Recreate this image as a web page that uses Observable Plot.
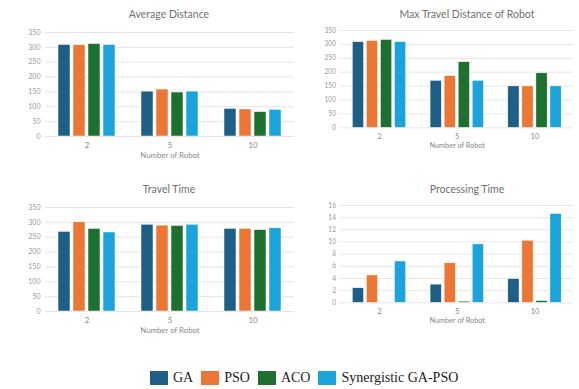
<!DOCTYPE html>
<html>
<head>
<meta charset="utf-8">
<script src="https://cdn.jsdelivr.net/npm/d3@7"></script>
<script src="https://cdn.jsdelivr.net/npm/@observablehq/plot@0.6"></script>
<style>
  html, body { margin: 0; padding: 0; background: #fff; }
  body { width: 579px; height: 389px; overflow: hidden; position: relative; font-family: Lato, "Open Sans", sans-serif; }
  .panel { position: absolute; }
  .title { position: absolute; width: 250px; text-align: center; font-size: 10.5px; font-weight: 400; color: #707070; white-space: nowrap; }
  .legend { position: absolute; left: 150px; top: 371px; display: flex; align-items: center; font-family: "Liberation Serif", "Times New Roman", serif; font-size: 14px; color: #222; }
  .legend .sw { width: 18px; height: 14px; margin-right: 5px; }
  .legend .lab { margin-right: 8px; line-height: 14px; }
</style>
</head>
<body>
<script>
// Robot counts (groups) and algorithms (bars within each group)
const robots = ["2", "5", "10"];
const algorithms = ["GA", "PSO", "ACO", "Synergistic GA-PSO"];
const colors = ["#1d5f85", "#ec7735", "#1e7030", "#1ba3db"];

// One row per robot count, one value per algorithm
const averageDistance = [
  [308, 307, 311, 308],
  [151, 158, 148, 151],
  [93, 91, 82, 90]
];
const maxTravelDistance = [
  [308, 312, 316, 308],
  [169, 186, 236, 169],
  [149, 149, 196, 149]
];
const travelTime = [
  [268, 300, 278, 266],
  [292, 289, 288, 292],
  [278, 278, 274, 280]
];
const processingTime = [
  [2.4, 4.5, 0, 6.8],
  [3.0, 6.5, 0.2, 9.6],
  [3.9, 10.2, 0.3, 14.6]
];

const distanceTicks = [0, 50, 100, 150, 200, 250, 300, 350];
const timeTicks = [0, 2, 4, 6, 8, 10, 12, 14, 16];

function toRows(values) {
  const rows = [];
  robots.forEach((r, i) => algorithms.forEach((a, j) => rows.push({robots: r, algo: a, value: values[i][j]})));
  return rows;
}

function panel({title, values, ticks, left, top}) {
  const chart = Plot.plot({
    width: 300,
    height: 170,
    marginLeft: 44,
    marginRight: 6,
    marginTop: 32,
    marginBottom: 34,
    style: {fontFamily: "Lato, 'Open Sans', sans-serif", color: "#888", background: "transparent"},
    fx: {domain: robots, padding: 0},
    x: {domain: algorithms, paddingInner: 0.2, paddingOuter: 0.8, axis: null},
    y: {domain: [ticks[0], ticks[ticks.length - 1]]},
    color: {domain: algorithms, range: colors},
    marks: [
      Plot.gridY(ticks, {stroke: "#e4e4e4", strokeOpacity: 1, strokeWidth: 1}),
      Plot.barY(toRows(values), {fx: "robots", x: "algo", y: "value", fill: "algo", stroke: "#fff", strokeWidth: 0.5}),
      Plot.axisY(ticks, {tickSize: 0, tickPadding: 5, label: null, fontSize: 7, color: "#999"}),
      Plot.axisFx({anchor: "bottom", tickSize: 0, tickPadding: 6, fontSize: 7.8, color: "#888",
        label: "Number of Robot", labelAnchor: "center", labelOffset: 21})
    ]
  });
  const wrap = document.createElement("div");
  wrap.className = "panel";
  wrap.style.left = left + "px";
  wrap.style.top = top + "px";
  wrap.appendChild(chart);
  document.body.appendChild(wrap);

  const t = document.createElement("div");
  t.className = "title";
  t.textContent = title;
  t.style.left = (left + 44) + "px";
  t.style.top = (top + 8) + "px";
  document.body.appendChild(t);
}

panel({title: "Average Distance", values: averageDistance, ticks: distanceTicks, left: 0, top: 0});
panel({title: "Max Travel Distance of Robot", values: maxTravelDistance, ticks: distanceTicks, left: 298, top: 0});
panel({title: "Travel Time", values: travelTime, ticks: distanceTicks, left: 0, top: 175});
panel({title: "Processing Time", values: processingTime, ticks: timeTicks, left: 298, top: 175});

// Legend below the four charts
const legend = document.createElement("div");
legend.className = "legend";
algorithms.forEach((a, i) => {
  const sw = document.createElement("span");
  sw.className = "sw";
  sw.style.background = colors[i];
  const lab = document.createElement("span");
  lab.className = "lab";
  lab.textContent = a;
  legend.append(sw, lab);
});
document.body.appendChild(legend);
</script>
</body>
</html>
